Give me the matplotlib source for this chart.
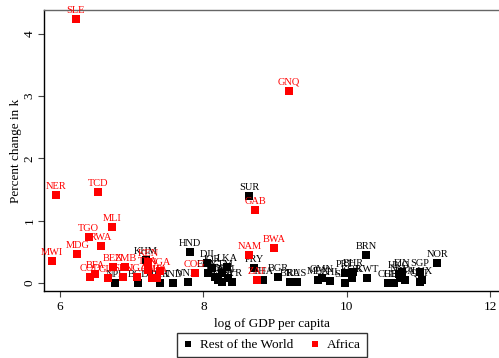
import matplotlib.pyplot as plt

# log GDP per capita and percent change in k, by country
africa_codes = ['SLE', 'GNQ', 'NER', 'TCD', 'MLI', 'TGO', 'RWA', 'MDG', 'MWI',
                'GAB', 'BWA', 'NAM', 'ZAF', 'COG', 'BEN', 'BFA', 'COD', 'GIN',
                'SEN', 'ZMB', 'UGA', 'KEN', 'TZA', 'CMR', 'GHA', 'NGA']
africa_gdp = [6.22, 9.19, 5.94, 6.53, 6.73, 6.40, 6.57, 6.24, 5.89,
              8.72, 8.98, 8.64, 8.75, 7.88, 6.74, 6.49, 6.42, 6.67,
              6.88, 6.91, 7.07, 7.23, 7.23, 7.28, 7.35, 7.39]
africa_k = [4.24, 3.08, 1.41, 1.46, 0.90, 0.74, 0.60, 0.47, 0.35,
            1.17, 0.56, 0.45, 0.05, 0.16, 0.26, 0.14, 0.10, 0.08,
            0.10, 0.26, 0.10, 0.34, 0.21, 0.08, 0.08, 0.19]

row_codes = ['SUR', 'HND', 'KHM', 'NPL', 'BGD', 'PAK', 'IND', 'VNM',
             'DJI', 'LKA', 'EGY', 'JOR', 'IDN', 'PHL', 'GTM', 'BOL', 'SYR', 'MAR',
             'PRY', 'THA', 'BGR', 'BRA', 'RUS', 'MEX', 'OMN', 'CHL', 'PRT', 'SAU',
             'BHR', 'KOR', 'KWT', 'BRN', 'CHE', 'GBR', 'NLD', 'FIN', 'HKG', 'USA',
             'SGP', 'QAT', 'LUX', 'NOR']
row_gdp = [8.64, 7.81, 7.20, 6.77, 7.09, 7.40, 7.58, 7.79,
           8.05, 8.33, 8.06, 8.12, 8.16, 8.20, 8.26, 8.34, 8.40, 8.26,
           8.71, 8.83, 9.04, 9.21, 9.30, 9.60, 9.65, 9.77, 9.97, 9.97,
           10.09, 10.07, 10.28, 10.27, 10.57, 10.66, 10.74, 10.77, 10.73, 10.81,
           11.02, 11.02, 11.05, 11.26]
row_k = [1.40, 0.50, 0.37, 0.00, 0.00, 0.00, 0.00, 0.02,
         0.32, 0.26, 0.16, 0.24, 0.10, 0.05, 0.16, 0.08, 0.02, 0.02,
         0.24, 0.05, 0.10, 0.02, 0.01, 0.05, 0.08, 0.03, 0.16, 0.00,
         0.18, 0.08, 0.08, 0.45, 0.00, 0.00, 0.08, 0.18, 0.14, 0.05,
         0.18, 0.02, 0.05, 0.32]

xticks = [6, 8, 10, 12]
yticks = [0, 1, 2, 3, 4]

plt.rcParams['font.family'] = ['Liberation Serif', 'DejaVu Serif']

fig = plt.figure(figsize=(4.99, 3.58), dpi=100)
ax = fig.add_axes([0.0882, 0.187, 0.9118, 0.785])

ax.scatter(row_gdp, row_k, marker='s', s=26, color='black', linewidths=0,
           label='Rest of the World', zorder=2)
for c, x, y in zip(row_codes, row_gdp, row_k):
    ax.annotate(c, (x, y), xytext=(0, 3), textcoords='offset points',
                ha='center', va='bottom', fontsize=7.5, color='black', zorder=2)

ax.scatter(africa_gdp, africa_k, marker='s', s=26, color='red', linewidths=0,
           label='Africa', zorder=3)
for c, x, y in zip(africa_codes, africa_gdp, africa_k):
    ax.annotate(c, (x, y), xytext=(0, 3), textcoords='offset points',
                ha='center', va='bottom', fontsize=7.5, color='red', zorder=3)

ax.set_xlim(5.777, 12.12)
ax.set_ylim(-0.128, 4.382)
ax.set_xticks(xticks)
ax.set_yticks(yticks)
ax.tick_params(axis='both', direction='out', length=4, width=0.8,
               color='#444444', labelsize=9.5)
ax.tick_params(axis='y', pad=2)
for lbl in ax.get_yticklabels():
    lbl.set_rotation(90)
    lbl.set_va('center')

ax.spines['right'].set_visible(False)
ax.spines['top'].set_color('#666666')
ax.spines['top'].set_linewidth(1.0)
ax.spines['left'].set_linewidth(1.0)
ax.spines['bottom'].set_linewidth(1.0)

ax.set_xlabel('log of GDP per capita', fontsize=9.5, labelpad=3)
ax.set_ylabel('Percent change in k', fontsize=9.5, labelpad=1)

fig.legend(loc='upper center', bbox_to_anchor=(0.545, 0.071), ncol=2,
           fontsize=9.5, frameon=True, fancybox=False, edgecolor='black',
           handlelength=0.8, handletextpad=0.5, columnspacing=1.3,
           markerscale=0.75, borderpad=0.45, borderaxespad=0)

fig.savefig('out.png', dpi=100)
